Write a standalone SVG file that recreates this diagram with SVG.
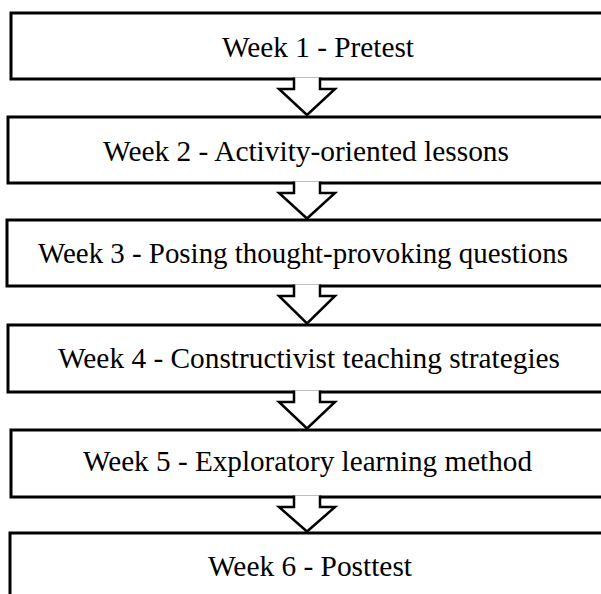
<svg xmlns="http://www.w3.org/2000/svg" width="601" height="594" viewBox="0 0 601 594">
<style>
.box{fill:#fff;stroke:#000;stroke-width:3}
.arr{fill:#fff;stroke:#000;stroke-width:2.5;stroke-linejoin:miter}
.lbl{font-family:"Liberation Serif","Times New Roman",serif;font-size:29px;fill:#000}
</style>
<rect width="601" height="594" fill="#fff"/>
<g id="n1"><rect class="box" x="11" y="13" width="620" height="66"/><text class="lbl" x="222" y="57" textLength="192" lengthAdjust="spacingAndGlyphs">Week 1 - Pretest</text></g>
<g id="n2"><rect class="box" x="8" y="117" width="620" height="66"/><text class="lbl" x="103" y="161" textLength="406" lengthAdjust="spacingAndGlyphs">Week 2 - Activity-oriented lessons</text></g>
<g id="n3"><rect class="box" x="7" y="220" width="620" height="66"/><text class="lbl" x="38" y="263" textLength="530" lengthAdjust="spacingAndGlyphs">Week 3 - Posing thought-provoking questions</text></g>
<g id="n4"><rect class="box" x="8" y="325" width="620" height="67"/><text class="lbl" x="58" y="368" textLength="502" lengthAdjust="spacingAndGlyphs">Week 4 - Constructivist teaching strategies</text></g>
<g id="n5"><rect class="box" x="11" y="430" width="620" height="67"/><text class="lbl" x="83" y="471" textLength="449" lengthAdjust="spacingAndGlyphs">Week 5 - Exploratory learning method</text></g>
<g id="n6"><rect class="box" x="10" y="533" width="620" height="80"/><text class="lbl" x="208" y="576" textLength="204" lengthAdjust="spacingAndGlyphs">Week 6 - Posttest</text></g>
<g id="connectors">
<path class="arr" d="M294,77.5 V89 H279 L307,115 L335,89 H320 V77.5"/>
<path class="arr" d="M294,181.5 V193 H279 L307,218.5 L335,193 H320 V181.5"/>
<path class="arr" d="M294,284.5 V296 H279 L307,323.5 L335,296 H320 V284.5"/>
<path class="arr" d="M294,390.5 V402 H279 L307,428.5 L335,402 H320 V390.5"/>
<path class="arr" d="M294,495.5 V507 H279 L307,531.5 L335,507 H320 V495.5"/>
</g>
</svg>
